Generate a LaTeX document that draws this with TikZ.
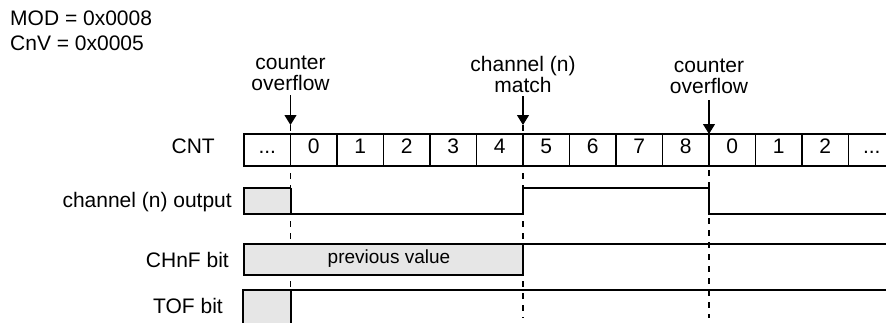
\documentclass[tikz,border=0pt]{standalone}
\usepackage{fontspec}
\setmainfont{Liberation Sans}
\usetikzlibrary{arrows.meta}
\definecolor{boxgray}{RGB}{230,230,230}
\newcommand{\celldots}{...}
\begin{document}
\begin{tikzpicture}[x=1pt,y=-1pt,
  lbl/.style={inner sep=0pt, font=\fontsize{21}{21}\selectfont},
  small/.style={inner sep=0pt, font=\fontsize{19}{20}\selectfont},
  cell/.style={draw, line width=1.1pt, minimum width=46.5pt, minimum height=32pt,
    inner sep=0pt, text height=15pt, text depth=8pt, font=\fontsize{21}{20}\selectfont},
  sig/.style={line width=2pt, line join=miter},
  guide/.style={line width=1.1pt, dash pattern=on 6pt off 6pt},
  marker/.style={line width=1.1pt, -{Triangle[width=12pt,length=10pt]}},
  shade/.style={fill=boxgray, draw, line width=1.1pt}
]
\useasboundingbox (0,0) rectangle (886,322);
\clip (0,0) rectangle (886,322);

% header text
\node[lbl, anchor=base west] (mod) at (10,25) {MOD = 0x0008};
\node[lbl, anchor=base west] (cnv) at (10,50) {CnV = 0x0005};

% event labels
\node[lbl, align=center, anchor=base] (t1) at (290.5,90) {counter\\overflow};
\node[lbl, align=center, anchor=base] (t2) at (523,92) {channel (n)\\match};
\node[lbl, align=center, anchor=base] (t3) at (709,93) {counter\\overflow};
\coordinate (a1) at (290.5,125);
\coordinate (a2) at (523,125);
\coordinate (a3) at (709,134);
\coordinate (b1) at (290.5,318);
\coordinate (b2) at (523,318);
\coordinate (b3) at (709,318);

% guides
\draw[guide] (a1) -- (b1);
\draw[guide] (a2) -- (b2);
\draw[guide] (a3) -- (b3);

% arrows
\draw[marker, shorten <=5pt] (t1.south) -- (a1);
\draw[marker, shorten <=4pt] (t2.south) -- (a2);
\draw[marker, shorten <=7pt] (t3.south) -- (a3);

% row labels
\node[lbl, anchor=base east] (cnt) at (215,153.5) {CNT};
\node[lbl, anchor=base east] (chout) at (232,207) {channel (n) output};
\node[lbl, anchor=base east] (chnf) at (229,267) {CHnF bit};
\node[lbl, anchor=base east] (tof) at (223,313) {TOF bit};

% counter cells
\foreach \k/\v in {0/\celldots,1/0,2/1,3/2,4/3,5/4,6/5,7/6,8/7,9/8,10/0,11/1,12/2,13/\celldots}{
  \node[cell] (c\k) at ({244+46.5*(\k+0.5)},150) {\v};
}

% channel (n) output
\draw[shade] (244,188) rectangle (290.5,214);
\draw[sig] (290.5,188) -- (290.5,214) -- (523,214) -- (523,188) -- (709,188) -- (709,214) -- (890,214);

% CHnF bit
\draw[shade] (244,244) rectangle (523,275);
\node[small, anchor=base] (prev) at (389,263) {previous value};
\draw[sig] (244,275) -- (523,275) -- (523,244) -- (890,244);

% TOF bit
\draw[shade] (243,290) rectangle (290.5,330);
\draw[sig] (290.5,330) -- (290.5,290) -- (890,290);
\end{tikzpicture}
\end{document}
